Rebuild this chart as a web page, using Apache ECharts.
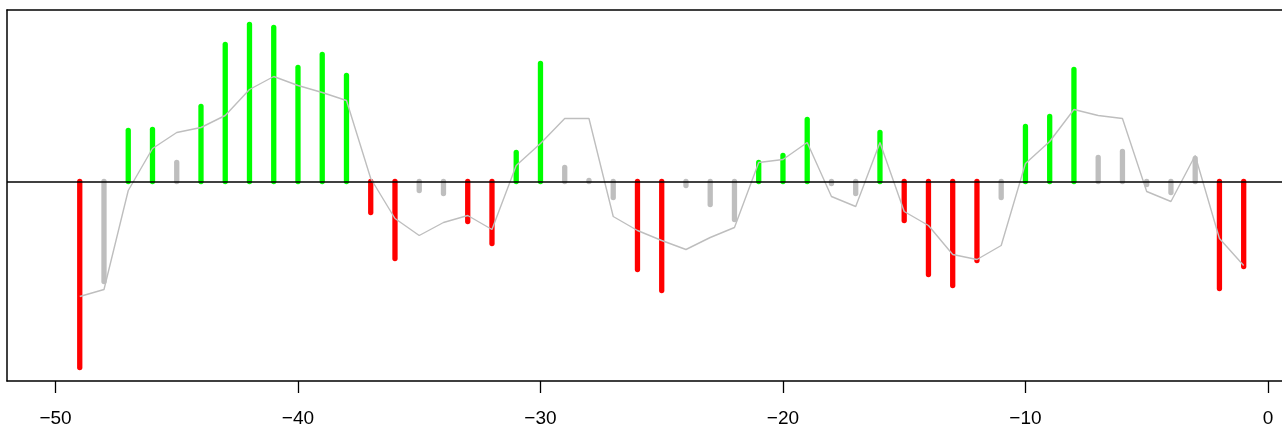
<!DOCTYPE html>
<html>
<head>
<meta charset="utf-8">
<script src="https://cdn.jsdelivr.net/npm/echarts@6/dist/echarts.min.js"></script>
<style>
  html, body { margin: 0; padding: 0; background: #ffffff; }
  #chart { width: 1282px; height: 430px; }
</style>
</head>
<body>
<div id="chart"></div>
<script>
// Lags (x positions of the spikes)
const lags = [-49,-48,-47,-46,-45,-44,-43,-42,-41,-40,-39,-38,-37,-36,-35,-34,-33,-32,-31,-30,
              -29,-28,-27,-26,-25,-24,-23,-22,-21,-20,-19,-18,-17,-16,-15,-14,-13,-12,-11,-10,
              -9,-8,-7,-6,-5,-4,-3,-2,-1];

// Spike heights
const spikes = [-18.6,-10.0,5.1,5.2,1.9,7.5,13.7,15.7,15.4,11.4,12.7,10.6,-3.1,-7.7,-0.9,-1.2,-4.0,-6.2,2.9,11.8,
                1.4,0.1,-1.6,-8.8,-10.9,-0.4,-2.3,-3.8,1.9,2.6,6.2,-0.2,-1.2,4.9,-3.9,-9.3,-10.4,-7.9,-1.6,5.5,
                6.5,11.2,2.4,3.0,-0.3,-1.1,2.3,-10.7,-8.5];

// Spike state: 1 = up (green), -1 = down (red), 0 = neutral (grey)
const states = [-1,0,1,1,0,1,1,1,1,1,1,1,-1,-1,0,0,-1,-1,1,1,
                0,0,0,-1,-1,0,0,0,1,1,1,0,0,1,-1,-1,-1,-1,0,1,
                1,1,0,0,0,0,0,-1,-1];

// Smoothed trace
const trace = [-11.5,-10.8,-0.9,3.3,4.9,5.4,6.6,9.2,10.5,9.6,8.9,8.1,0.3,-3.7,-5.4,-4.1,-3.4,-4.8,1.6,3.8,
               6.3,6.3,-3.5,-4.9,-5.9,-6.8,-5.6,-4.6,1.9,2.2,3.9,-1.5,-2.5,3.9,-3.0,-4.4,-7.3,-7.8,-6.4,1.8,
               4.0,7.2,6.6,6.3,-1.0,-2.0,2.6,-5.7,-8.4];

// Axis ticks
const xTicks = [-50,-40,-30,-20,-10,0];

const stateColors = { '1': '#00ff00', '-1': '#ff0000', '0': '#bebebe' };

const spikeData = lags.map((x, i) => [x, spikes[i], states[i]]);
const traceData = lags.map((x, i) => [x, trace[i]]);

const chart = echarts.init(document.getElementById('chart'), null, { renderer: 'canvas' });

chart.setOption({
  animation: false,
  backgroundColor: '#ffffff',
  grid: { left: 7, top: 10, right: 0, height: 371, containLabel: false },
  xAxis: [{
    type: 'value',
    min: -52,
    max: 0.58,
    position: 'bottom',
    axisLine: { show: true, onZero: false, lineStyle: { color: '#000000', width: 1.5 } },
    axisTick: { show: true, length: 12, lineStyle: { color: '#000000', width: 1.3 },
                customValues: xTicks },
    axisLabel: {
      show: true, margin: 28, color: '#000000', fontSize: 19,
      fontFamily: 'Liberation Sans, Arial, sans-serif',
      customValues: xTicks,
      formatter: v => String(v).replace('-', '\u2212')
    },
    splitLine: { show: false }
  }, {
    type: 'value',
    min: -52,
    max: 0.58,
    position: 'top',
    axisLine: { show: true, onZero: false, lineStyle: { color: '#000000', width: 1.5 } },
    axisTick: { show: false },
    axisLabel: { show: false },
    splitLine: { show: false }
  }],
  yAxis: {
    type: 'value',
    min: -19.95,
    max: 17.15,
    axisLine: { show: true, onZero: false, lineStyle: { color: '#000000', width: 1.5 } },
    axisTick: { show: false },
    axisLabel: { show: false },
    splitLine: { show: false }
  },
  series: [{
    type: 'custom',
    z: 2,
    data: spikeData,
    encode: { x: 0, y: 1 },
    renderItem: (params, api) => {
      const x = api.value(0);
      const base = api.coord([x, 0]);
      const tip = api.coord([x, api.value(1)]);
      return {
        type: 'line',
        shape: { x1: base[0], y1: base[1], x2: tip[0], y2: tip[1] },
        style: { stroke: stateColors[String(api.value(2))], lineWidth: 5.3, lineCap: 'round' }
      };
    }
  }, {
    type: 'line',
    z: 3,
    data: traceData,
    showSymbol: false,
    symbol: 'none',
    lineStyle: { color: '#bebebe', width: 1.4 },
    markLine: {
      silent: true,
      symbol: 'none',
      label: { show: false },
      lineStyle: { color: '#000000', width: 1.5, type: 'solid' },
      data: [{ yAxis: 0 }]
    }
  }]
});
</script>
</body>
</html>
